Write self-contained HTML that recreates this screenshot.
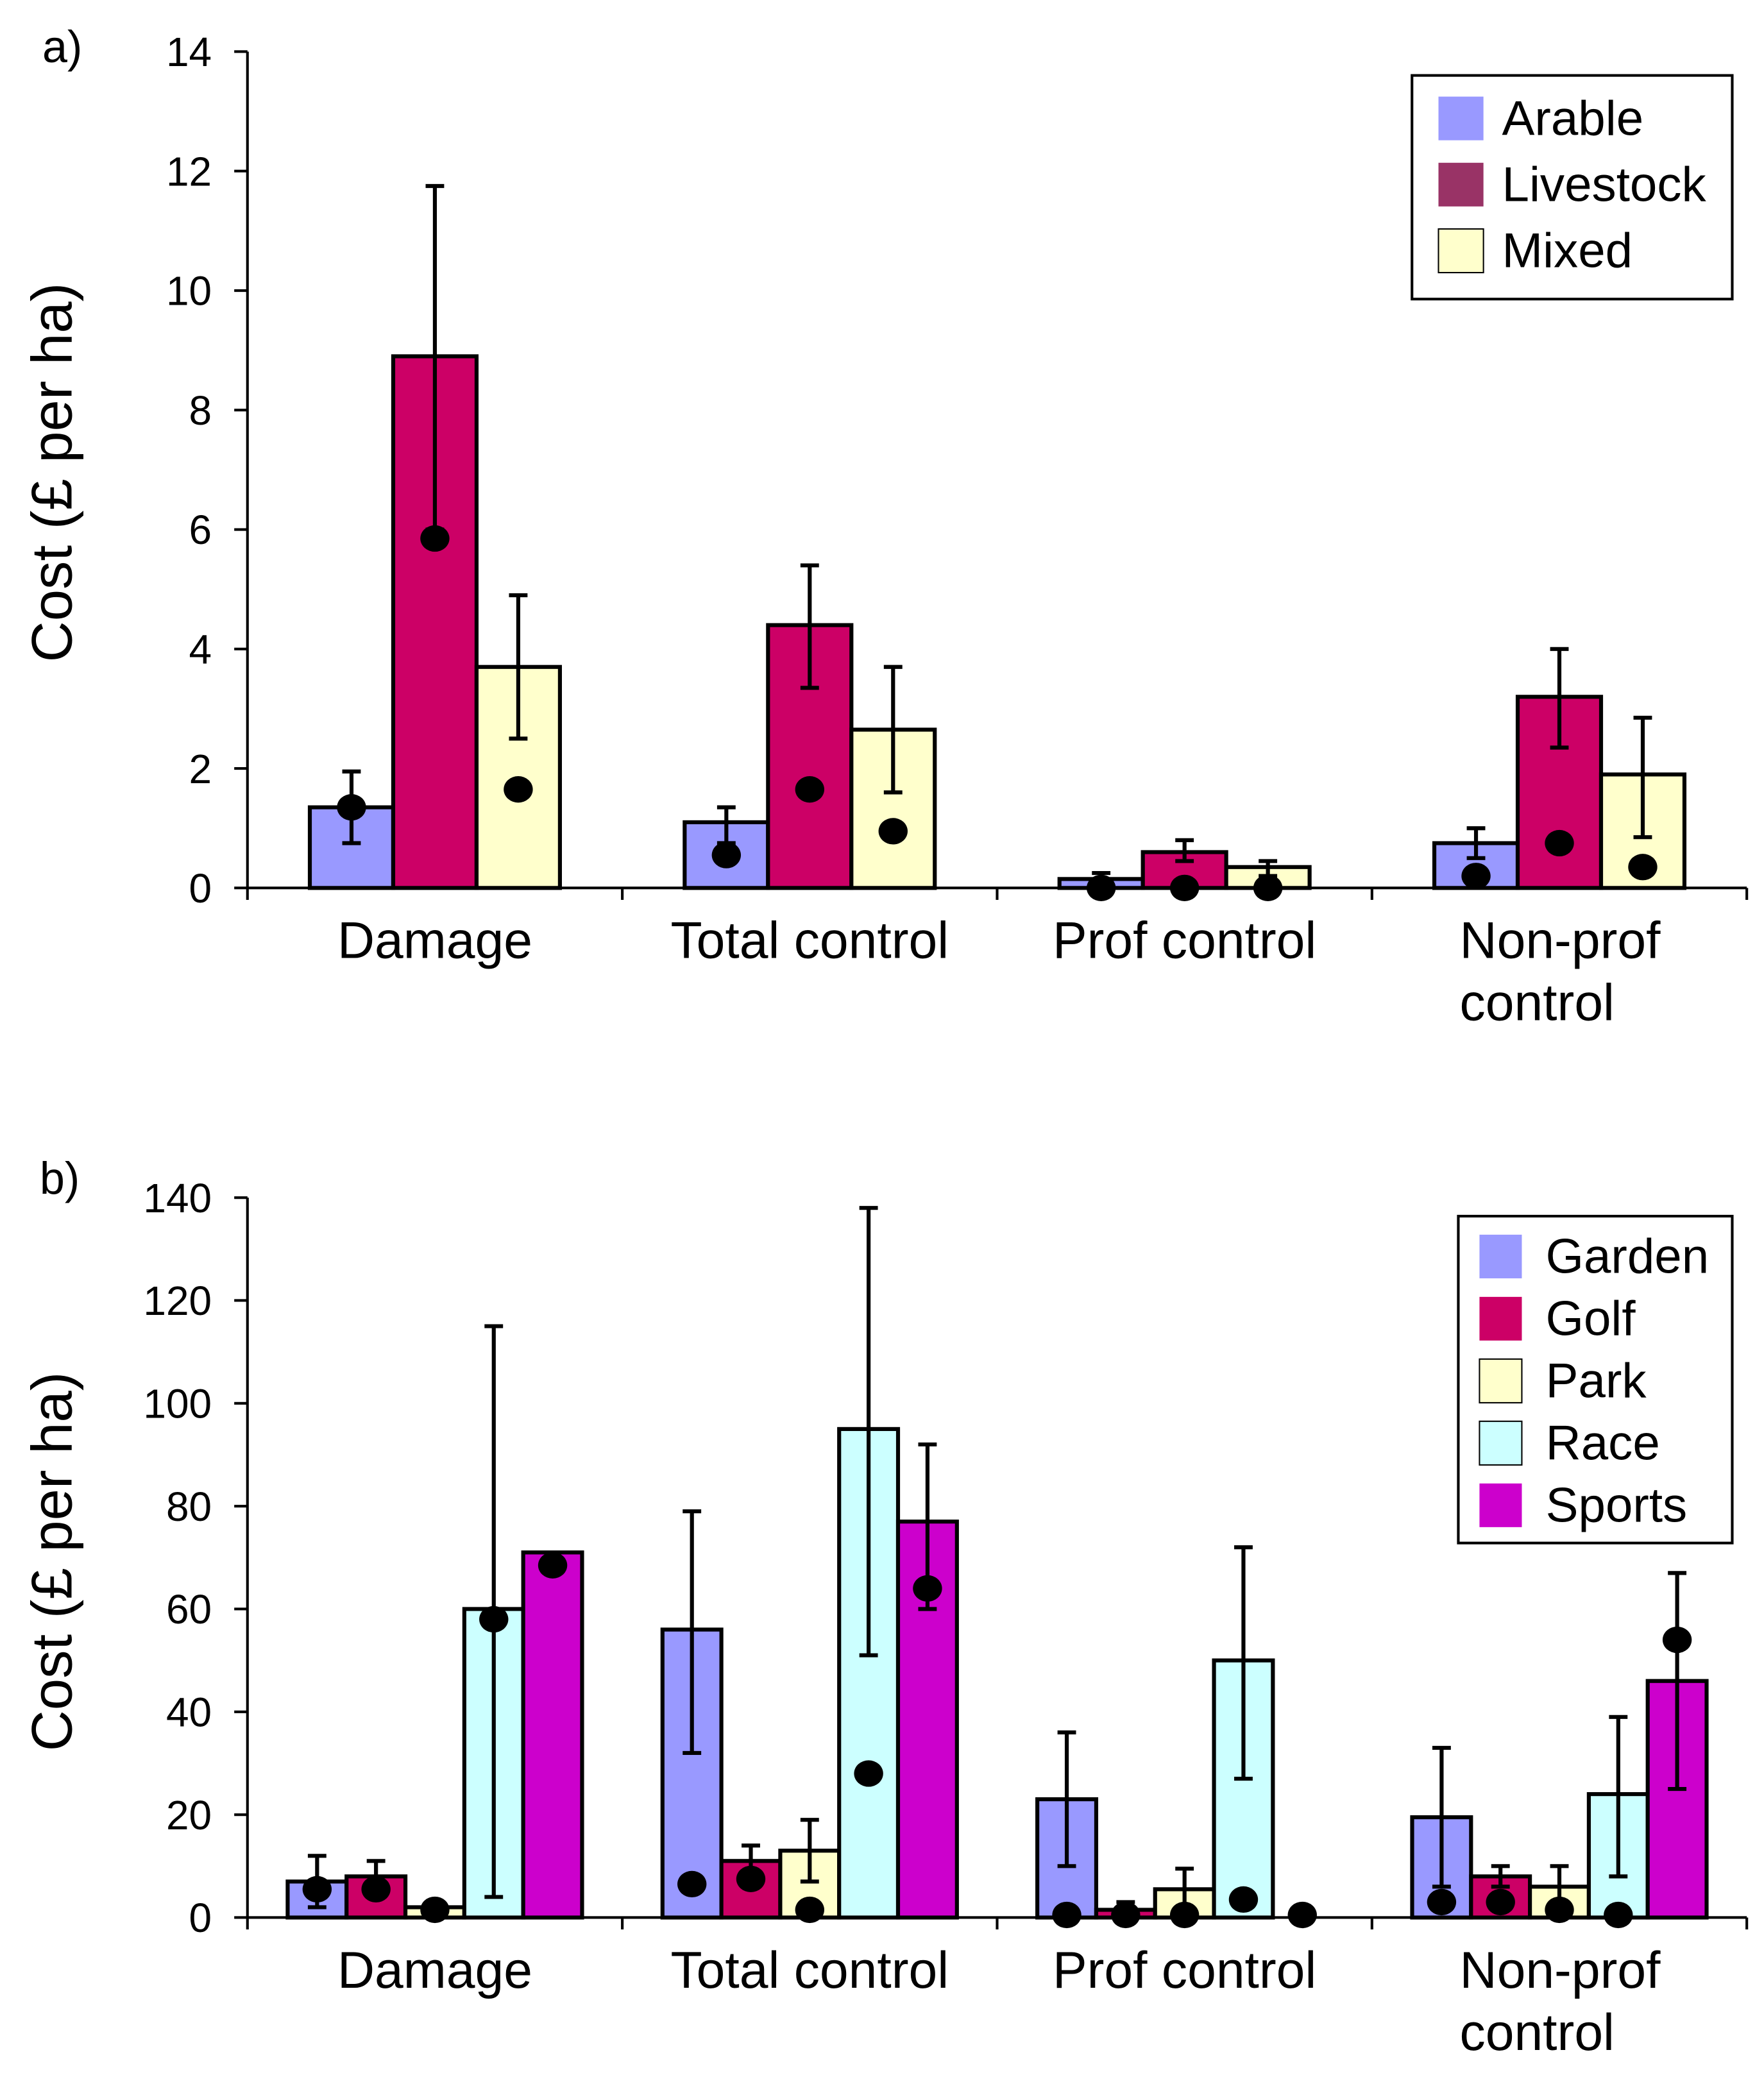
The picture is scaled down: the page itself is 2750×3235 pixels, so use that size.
<!DOCTYPE html>
<html><head><meta charset="utf-8"><style>
html,body{margin:0;padding:0;background:#fff}
svg{display:block}
text{font-family:"Liberation Sans",Arial,sans-serif;fill:#000}
</style></head><body>
<svg id="chart" width="2750" height="3235" viewBox="0 0 1333 1568" preserveAspectRatio="none" xmlns="http://www.w3.org/2000/svg"></svg>
<script>
const catsA = ["Damage","Total control","Prof control","Non-prof control"];
const seriesA = ["Arable","Livestock","Mixed"];
const colorsA = ["#9999ff","#cc0066","#ffffcc"];
const legendColorsA = ["#9999ff","#993366","#ffffcc"];
const arableVals = [1.35,1.1,0.15,0.75];
const livestockVals = [8.9,4.4,0.6,3.2];
const mixedVals = [3.7,2.65,0.35,1.9];
const arableLo = [0.75,0.75,0.1,0.5], arableHi = [1.95,1.35,0.25,1.0];
const livestockLo = [6.0,3.35,0.45,2.35], livestockHi = [11.75,5.4,0.8,4.0];
const mixedLo = [2.5,1.6,0.2,0.85], mixedHi = [4.9,3.7,0.45,2.85];
const arableMed = [1.35,0.55,0,0.2];
const livestockMed = [5.85,1.65,0,0.75];
const mixedMed = [1.65,0.95,0,0.35];
const ticksA = [0,2,4,6,8,10,12,14];

const seriesB = ["Garden","Golf","Park","Race","Sports"];
const colorsB = ["#9999ff","#cc0066","#ffffcc","#ccffff","#cc00cc"];
const gardenVals = [7,56,23,19.5];
const golfVals = [8,11,1.5,8];
const parkVals = [2,13,5.5,6];
const raceVals = [60,95,50,24];
const sportsVals = [71,77,0,46];
const gardenLo = [2,32,10,6], gardenHi = [12,79,36,33];
const golfLo = [4,8,0,6], golfHi = [11,14,3,10];
const parkLo = [1,7,0,1.5], parkHi = [2,19,9.5,10];
const raceLo = [4,51,27,8], raceHi = [115,138,72,39];
const sportsLo = [null,60,null,25], sportsHi = [null,92,null,67];
const gardenMed = [5.5,6.5,0.5,3];
const golfMed = [5.5,7.5,0.5,3];
const parkMed = [1.5,1.5,0.5,1.5];
const raceMed = [58,28,3.5,0.5];
const sportsMed = [68.5,64,0.5,54];
const ticksB = [0,20,40,60,80,100,120,140];

const svg = document.getElementById('chart');
const NS = "http://www.w3.org/2000/svg";
function mk(tag, attrs, parent){const e=document.createElementNS(NS,tag);for(const k in attrs)e.setAttribute(k,attrs[k]);(parent||svg).appendChild(e);return e;}

function panel(opt){
  const g = mk('g',{});
  
  
  const x0=187, x1=1320, catW=(x1-x0)/4;
  const y = v => opt.y0 - (v-0)/(opt.max)*(opt.y0-opt.yTop);
  const ya = mk('line',{x1:x0,y1:opt.yTop,x2:x0,y2:opt.y0,stroke:'#000','stroke-width':2},g);
  
  
  opt.ticks.forEach(t=>{
    mk('line',{x1:x0-10,y1:y(t),x2:x0,y2:y(t),stroke:'#000','stroke-width':2},g);
    const tx = mk('text',{x:x0-27,y:y(t)+11,'text-anchor':'end','font-size':31},g);
    tx.textContent=t;
    
    
  });
  const xa = mk('line',{x1:x0,y1:opt.y0,x2:x1,y2:opt.y0,stroke:'#000','stroke-width':2},g);
  
  
  for(let i=0;i<=4;i++) mk('line',{x1:x0+i*catW,y1:opt.y0,x2:x0+i*catW,y2:opt.y0+9,stroke:'#000','stroke-width':2},g);
  const n=opt.vals.length;
  const bw=opt.bw, gw=bw*n, off=(catW-gw)/2;
  catsA.forEach((c,ci)=>{
    const cx = x0+ci*catW+catW/2;
    const lbl = mk('text',{x:cx,y:opt.y0+53,'text-anchor':'middle','font-size':39},g);
    
    
    if(c==="Non-prof control"){
      lbl.setAttribute('text-anchor','start');
      const t1=mk('tspan',{x:1103,dy:0},lbl);t1.textContent="Non-prof";
      const t2=mk('tspan',{x:1103,dy:47},lbl);t2.textContent="control";
    } else lbl.textContent=c;
    for(let s=0;s<n;s++){
      const bx = x0+ci*catW+off+s*bw;
      const v = opt.vals[s][ci];
      const r = mk('rect',{x:bx,y:y(v),width:bw,height:opt.y0-y(v),fill:opt.colors[s],stroke:'#000','stroke-width':3},g);
      
      
    }
    for(let s=0;s<n;s++){
      const mx = x0+ci*catW+off+s*bw+bw/2;
      const lo=opt.lo[s][ci], hi=opt.hi[s][ci];
      if(lo!==null && hi!==null){
        const eb = mk('g',{},g);
        
        
        mk('line',{x1:mx,y1:y(lo),x2:mx,y2:y(hi),stroke:'#000','stroke-width':3},eb);
        mk('line',{x1:mx-7,y1:y(lo),x2:mx+7,y2:y(lo),stroke:'#000','stroke-width':3},eb);
        mk('line',{x1:mx-7,y1:y(hi),x2:mx+7,y2:y(hi),stroke:'#000','stroke-width':3},eb);
      }
      const d = mk('ellipse',{cx:mx,cy:y(opt.med[s][ci]),rx:11,ry:10,fill:'#000'},g);
      
      
    }
  });
  const L=opt.legend;
  const lg = mk('g',{},g);
  
  
  mk('rect',{x:L.x,y:L.y,width:L.w,height:L.h,fill:'#fff',stroke:'#000','stroke-width':2},lg);
  opt.series.forEach((s,i)=>{
    const e = mk('g',{},lg);
    
    
    const cy=L.y0+i*L.dy;
    mk('rect',{x:L.sx,y:cy-16,width:L.sw,height:33,fill:opt.legendColors[i],stroke:(opt.legendColors[i]==='#ffffcc'||opt.legendColors[i]==='#ccffff')?'#000':'none','stroke-width':1},e);
    const t=mk('text',{x:L.tx,y:cy+13,'font-size':37},e);t.textContent=s;
  });
  const yt = mk('text',{x:0,y:0,'text-anchor':'middle','font-size':43,transform:`translate(54,${opt.titleY}) rotate(-90)`},g);
  yt.textContent="Cost (£ per ha)";
  
  
  const pl = mk('text',{x:opt.plx,y:opt.ply,'font-size':34},g);
  pl.textContent=opt.panelLabel;
  
  
}

panel({name:'panel-a',y0:671,yTop:39,max:14,ticks:ticksA,bw:63,
  vals:[arableVals,livestockVals,mixedVals],lo:[arableLo,livestockLo,mixedLo],hi:[arableHi,livestockHi,mixedHi],
  med:[arableMed,livestockMed,mixedMed],colors:colorsA,legendColors:legendColorsA,series:seriesA,
  legend:{x:1067,y:57,w:242,h:169,y0:89,dy:50,sx:1087,sw:34,tx:1135},titleY:357,panelLabel:'a)',plx:32,ply:47});
panel({name:'panel-b',y0:1449,yTop:905,max:140,ticks:ticksB,bw:44.5,
  vals:[gardenVals,golfVals,parkVals,raceVals,sportsVals],lo:[gardenLo,golfLo,parkLo,raceLo,sportsLo],hi:[gardenHi,golfHi,parkHi,raceHi,sportsHi],
  med:[gardenMed,golfMed,parkMed,raceMed,sportsMed],colors:colorsB,legendColors:colorsB,series:seriesB,
  legend:{x:1102,y:919,w:207,h:247,y0:949,dy:47,sx:1118,sw:32,tx:1168},titleY:1180,panelLabel:'b)',plx:30,ply:902});
</script>
</body></html>
